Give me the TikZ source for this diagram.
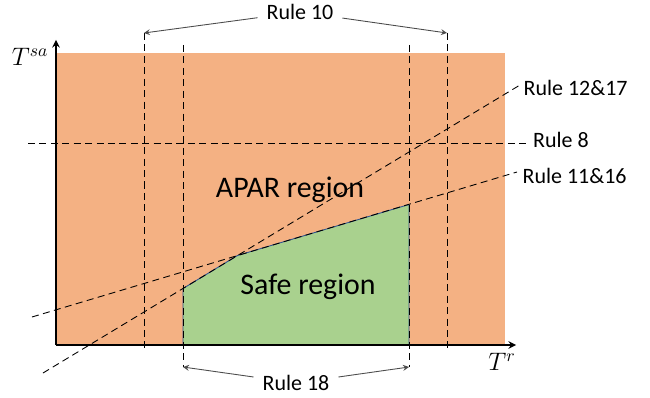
\documentclass[tikz,border=0pt]{standalone}
\usepackage{fontspec}
\setmainfont{Carlito}
\usetikzlibrary{arrows}
\definecolor{aparorange}{HTML}{F4B183}
\definecolor{safegreen}{HTML}{A9D18E}
\definecolor{edgeblue}{HTML}{2F528F}

\begin{document}
\begin{tikzpicture}[
    rulelbl/.style={font=\fontsize{12.5}{14}\selectfont, inner sep=1pt},
    calloutlbl/.style={rulelbl, inner sep=5pt},
    region/.style={font=\fontsize{17}{19}\selectfont},
    axlbl/.style={font=\fontsize{14}{16}\selectfont},
    bound/.style={dash pattern=on 4pt off 2.5pt, line width=0.5pt},
    callout/.style={->, >=stealth, draw=black!70, line width=0.5pt},
    axis/.style={->, >=stealth, line width=0.9pt}
]
    \useasboundingbox (-1.12,-1.04) rectangle (11.88,6.9);

    % Regions
    \fill[aparorange] (0,0) rectangle (8.98,5.84);
    \filldraw[fill=safegreen, draw=edgeblue, line width=0.5pt]
        (2.54,0) -- (2.54,1.13) -- (3.63,1.79) -- (7.06,2.81) -- (7.06,0) -- cycle;

    % Boundary end points
    \coordinate (v1t) at (1.76,6.24);  \coordinate (v1b) at (1.76,-0.1);
    \coordinate (v2t) at (2.54,6.0);   \coordinate (v2b) at (2.54,-0.44);
    \coordinate (v3t) at (7.06,6.0);   \coordinate (v3b) at (7.06,-0.44);
    \coordinate (v4t) at (7.82,6.24);  \coordinate (v4b) at (7.82,-0.1);
    \coordinate (h8a) at (-0.56,4.04); \coordinate (h8b) at (9.44,4.04);
    \coordinate (d12a) at (-0.26,-0.56); \coordinate (d12b) at (9.28,5.2);
    \coordinate (d11a) at (-0.48,0.56);  \coordinate (d11b) at (9.22,3.46);

    % Boundaries
    \draw[bound] (v1t) -- (v1b);
    \draw[bound] (v2t) -- (v2b);
    \draw[bound] (v3t) -- (v3b);
    \draw[bound] (v4t) -- (v4b);
    \draw[bound] (h8a) -- (h8b);
    \draw[bound] (d12a) -- (d12b);
    \draw[bound] (d11a) -- (d11b);

    % Axes
    \coordinate (o) at (0,0);
    \coordinate (xend) at (9.2,0);
    \coordinate (yend) at (0,6.1);
    \draw[axis] (o) -- (xend);
    \draw[axis] (o) -- (yend);
    \node[axlbl] (tsa) at (-0.52,5.76) {$T^{sa}$};
    \node[axlbl] (tr) at (8.92,-0.34) {$T^{r}$};

    % Labels
    \node[region] (apar) at (4.68,3.1) {APAR region};
    \node[region] (safe) at (5.04,1.16) {Safe region};
    \node[rulelbl, anchor=west] (r12) at (9.31,5.14) {Rule 12\&17};
    \node[rulelbl, anchor=west] (r8) at (9.5,4.11) {Rule 8};
    \node[rulelbl, anchor=west] (r11) at (9.29,3.38) {Rule 11\&16};
    \node[calloutlbl] (r10) at (4.88,6.66) {Rule 10};
    \node[calloutlbl] (r18) at (4.8,-0.76) {Rule 18};

    % Callouts
    \draw[callout] (r10) -- (v1t);
    \draw[callout] (r10) -- (v4t);
    \draw[callout] (r18) -- (v2b);
    \draw[callout] (r18) -- (v3b);
\end{tikzpicture}
\end{document}
